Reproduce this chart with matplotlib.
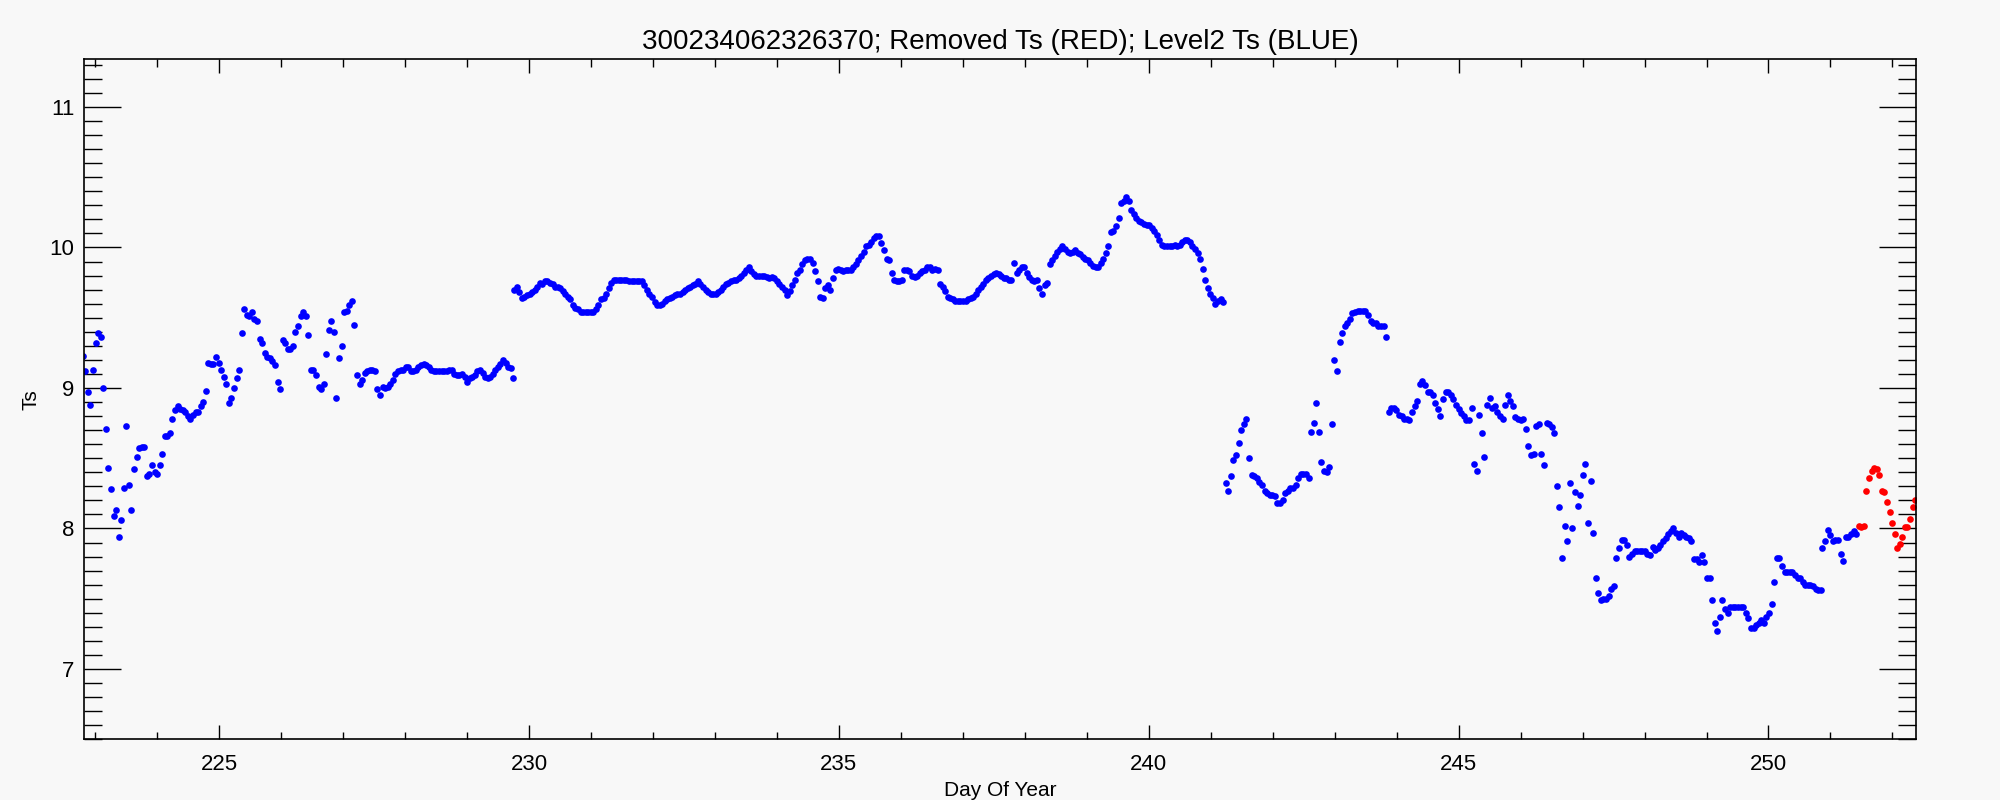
import numpy as np
import matplotlib
matplotlib.use('Agg')
import matplotlib.pyplot as plt
from matplotlib.ticker import MultipleLocator
from matplotlib import rcParams

rcParams['font.family'] = ['Liberation Sans', 'DejaVu Sans']

# segment 1 (blue), day 222.80 - 229.75
seg1_start, seg1_end = 222.80, 229.747
seg1_ts = [9.23, 9.12, 8.97, 8.88, 9.13, 9.32, 9.39, 9.36, 9.00, 8.71, 8.43, 8.28, 8.09, 8.13, 7.94, 8.06,
           8.29, 8.73, 8.31, 8.13, 8.42, 8.51, 8.57, 8.58, 8.58, 8.37, 8.39, 8.45, 8.40, 8.39, 8.45, 8.53,
           8.66, 8.66, 8.68, 8.78, 8.84, 8.87, 8.85, 8.84, 8.83, 8.80, 8.78, 8.81, 8.83, 8.83, 8.87, 8.90,
           8.98, 9.18, 9.17, 9.17, 9.22, 9.18, 9.13, 9.08, 9.03, 8.89, 8.93, 9.00, 9.07, 9.13, 9.39, 9.56,
           9.52, 9.51, 9.54, 9.49, 9.48, 9.35, 9.32, 9.25, 9.22, 9.21, 9.19, 9.16, 9.04, 8.99, 9.34, 9.32,
           9.28, 9.28, 9.30, 9.40, 9.44, 9.51, 9.54, 9.51, 9.38, 9.13, 9.13, 9.09, 9.01, 8.99, 9.03, 9.24,
           9.41, 9.48, 9.40, 8.93, 9.21, 9.30, 9.54, 9.55, 9.59, 9.62, 9.45, 9.09, 9.03, 9.06, 9.11, 9.12,
           9.13, 9.13, 9.12, 8.99, 8.95, 9.01, 9.00, 9.01, 9.03, 9.06, 9.10,
           9.12, 9.13, 9.13, 9.15, 9.15, 9.12, 9.12, 9.13, 9.15, 9.16, 9.17, 9.16, 9.15, 9.13, 9.12, 9.12,
           9.12, 9.12, 9.12, 9.12, 9.13, 9.13, 9.10, 9.09, 9.09, 9.10, 9.08, 9.04, 9.07, 9.08, 9.09, 9.12,
           9.13, 9.11, 9.08, 9.07, 9.08, 9.10, 9.13, 9.15, 9.17, 9.20, 9.18, 9.15, 9.14, 9.07]

# segment 2 (blue), day 229.76 - 241.20
seg2_start, seg2_end = 229.763, 241.199
seg2_ts = [9.70, 9.72, 9.68, 9.64, 9.65, 9.66, 9.67, 9.68, 9.70, 9.72, 9.75, 9.74, 9.76, 9.76, 9.75, 9.74,
           9.72, 9.72, 9.71, 9.69, 9.67, 9.65, 9.63, 9.59, 9.57, 9.56, 9.54, 9.54, 9.54, 9.54, 9.54, 9.54,
           9.56, 9.59, 9.63, 9.64, 9.67, 9.71, 9.75, 9.77, 9.77, 9.77, 9.77, 9.77, 9.77, 9.76, 9.76, 9.76,
           9.76, 9.76, 9.76, 9.73, 9.70, 9.67, 9.65, 9.61, 9.59, 9.59, 9.60, 9.62, 9.63, 9.64, 9.65, 9.66,
           9.67, 9.67, 9.68, 9.70, 9.71, 9.72, 9.73, 9.74, 9.76,
           9.74, 9.72, 9.70, 9.68, 9.67, 9.67, 9.67, 9.68, 9.70, 9.72, 9.74, 9.75, 9.76, 9.77, 9.77, 9.78,
           9.80, 9.82, 9.84, 9.86, 9.83, 9.81, 9.80, 9.80, 9.80, 9.80, 9.79, 9.78, 9.79, 9.78, 9.76, 9.74,
           9.72, 9.70, 9.66, 9.69, 9.73, 9.77, 9.82, 9.84, 9.88, 9.91, 9.92, 9.92, 9.89, 9.83, 9.76, 9.65,
           9.64, 9.71, 9.73, 9.70, 9.78, 9.84, 9.85, 9.84, 9.83, 9.84, 9.84, 9.84, 9.86, 9.88, 9.91, 9.94,
           9.97, 10.01, 10.02, 10.04, 10.07, 10.08, 10.08, 10.03, 9.98, 9.92, 9.91, 9.82, 9.77, 9.76, 9.76, 9.77,
           9.84, 9.84, 9.83, 9.80, 9.79, 9.80, 9.82, 9.83, 9.84, 9.86, 9.86, 9.84, 9.85, 9.84, 9.74, 9.72,
           9.69, 9.65, 9.64, 9.63, 9.62, 9.62, 9.62, 9.62, 9.62, 9.63, 9.64, 9.65, 9.67, 9.70, 9.72, 9.74,
           9.77, 9.78, 9.80, 9.81, 9.82, 9.81, 9.80, 9.78,
           9.78, 9.77, 9.77, 9.89, 9.82, 9.84, 9.86, 9.86, 9.82, 9.79, 9.77, 9.76, 9.77, 9.71, 9.67, 9.73,
           9.75, 9.88, 9.91, 9.94, 9.97, 9.99, 10.01, 9.99, 9.97, 9.96, 9.97, 9.98, 9.96, 9.95, 9.93, 9.92,
           9.91, 9.89, 9.87, 9.86, 9.86, 9.89, 9.92, 9.96, 10.01, 10.11, 10.12, 10.15, 10.21, 10.32, 10.33, 10.36,
           10.33, 10.27, 10.24, 10.21, 10.19, 10.18, 10.17, 10.16, 10.16, 10.14, 10.12, 10.09, 10.05, 10.02, 10.01, 10.01,
           10.01, 10.01, 10.02, 10.01, 10.02, 10.04, 10.05, 10.05, 10.04, 10.01, 9.99, 9.96, 9.92, 9.85, 9.77, 9.71,
           9.67, 9.64, 9.60, 9.62, 9.63, 9.61]

# segment 3 (blue), day 241.24 - 250.84
seg3_start, seg3_end = 241.242, 250.844
seg3_ts = [8.32, 8.27, 8.37, 8.49, 8.52, 8.61, 8.70, 8.74, 8.78, 8.50, 8.38, 8.37, 8.36, 8.33, 8.31, 8.27,
           8.25, 8.24, 8.24, 8.23, 8.18, 8.18, 8.20, 8.25, 8.27, 8.29, 8.29, 8.31, 8.36, 8.39, 8.39, 8.39,
           8.36,
           8.69, 8.75, 8.89, 8.69, 8.47, 8.41, 8.40, 8.44, 8.74, 9.20, 9.12, 9.33, 9.39, 9.44, 9.46, 9.49,
           9.53, 9.54, 9.55, 9.55, 9.55, 9.55, 9.52, 9.48, 9.46, 9.46, 9.44, 9.44, 9.44, 9.36, 8.83, 8.86,
           8.86, 8.84, 8.81, 8.80, 8.78, 8.78, 8.77, 8.83, 8.87, 8.91, 9.03, 9.05, 9.02, 8.97, 8.97, 8.95,
           8.89, 8.85, 8.80, 8.92, 8.97, 8.97, 8.95, 8.92, 8.88, 8.85, 8.82, 8.80, 8.77, 8.77, 8.86, 8.46,
           8.41, 8.81, 8.68, 8.51, 8.88, 8.93, 8.86, 8.87, 8.83, 8.80, 8.78, 8.88, 8.95, 8.91, 8.87, 8.79,
           8.78, 8.77, 8.78, 8.71, 8.59, 8.52, 8.53, 8.73, 8.74, 8.53, 8.45, 8.75, 8.74, 8.72, 8.68, 8.30,
           8.15, 7.79, 8.02, 7.91, 8.32, 8.00, 8.26, 8.16, 8.24, 8.38, 8.46, 8.04, 8.34, 7.97, 7.65, 7.54,
           7.49, 7.50, 7.50, 7.52, 7.57, 7.59, 7.79, 7.86,
           7.92, 7.92, 7.88, 7.80, 7.82, 7.84, 7.84, 7.84, 7.84, 7.84, 7.82, 7.81, 7.87, 7.85, 7.86, 7.88,
           7.91, 7.93, 7.96, 7.98, 8.00, 7.97, 7.94, 7.97, 7.95, 7.94, 7.93, 7.91, 7.78, 7.78, 7.76, 7.81,
           7.76, 7.65, 7.65, 7.49, 7.33, 7.27, 7.37, 7.49, 7.43, 7.40, 7.44, 7.44, 7.44, 7.44, 7.44, 7.44,
           7.40, 7.36, 7.29, 7.29, 7.31, 7.33, 7.35, 7.33, 7.37, 7.40, 7.46, 7.62, 7.79, 7.79, 7.73, 7.69,
           7.69, 7.69, 7.69, 7.67, 7.65, 7.65, 7.62, 7.60, 7.60, 7.60, 7.59, 7.57, 7.56, 7.56]

# segment 4 (blue), day 250.87 - 251.41
seg4_start, seg4_end = 250.871, 251.414
seg4_ts = [7.86, 7.91, 7.99, 7.95, 7.91, 7.92, 7.92, 7.82, 7.77, 7.94, 7.94, 7.96, 7.98, 7.96]

# removed values (red), day 251.46 - 252.37
red_start, red_end = 251.457, 252.366
red_ts = [8.02, 8.01, 8.02, 8.27, 8.36, 8.41, 8.43, 8.42, 8.38, 8.27, 8.26, 8.19, 8.12, 8.04, 7.96, 7.86,
          7.89, 7.94, 8.01, 8.01, 8.07, 8.15, 8.20]

blue_segments = [(seg1_start, seg1_end, seg1_ts),
                 (seg2_start, seg2_end, seg2_ts),
                 (seg3_start, seg3_end, seg3_ts),
                 (seg4_start, seg4_end, seg4_ts)]

bg = '#f8f8f8'
fig = plt.figure(figsize=(20, 8), dpi=100, facecolor=bg)
ax = fig.add_axes([0.042, 0.076, 0.916, 0.850], facecolor=bg)

for start, end, vals in blue_segments:
    days = np.linspace(start, end, len(vals))
    ax.plot(days, vals, linestyle='none', marker='o', markersize=4.8,
            markeredgewidth=0, color='#0000ff')

red_days = np.linspace(red_start, red_end, len(red_ts))
ax.plot(red_days, red_ts, linestyle='none', marker='o', markersize=4.8,
        markeredgewidth=0, color='#ff0000')

ax.set_xlim(222.82, 252.38)
ax.set_ylim(6.5, 11.34)
ax.xaxis.set_major_locator(MultipleLocator(5))
ax.xaxis.set_minor_locator(MultipleLocator(1))
ax.yaxis.set_major_locator(MultipleLocator(1))
ax.yaxis.set_minor_locator(MultipleLocator(0.1))

ax.tick_params(axis='both', which='both', direction='in', top=True, right=True,
               color='black', width=1.0, labelsize=16)
ax.tick_params(axis='x', which='major', length=10, pad=11)
ax.tick_params(axis='x', which='minor', length=5.4)
ax.tick_params(axis='y', which='major', length=26.6, pad=7)
ax.tick_params(axis='y', which='minor', length=13.3)
for sp in ax.spines.values():
    sp.set_linewidth(1.2)

ax.set_title('300234062326370; Removed Ts (RED); Level2 Ts (BLUE)', fontsize=20, pad=7)
ax.set_xlabel('Day Of Year', fontsize=15)
ax.set_ylabel('Ts', fontsize=15)
ax.xaxis.set_label_coords(0.5, -0.062)
ax.yaxis.set_label_coords(-0.024, 0.5)

fig.savefig('out.png', dpi=100, facecolor=bg)
